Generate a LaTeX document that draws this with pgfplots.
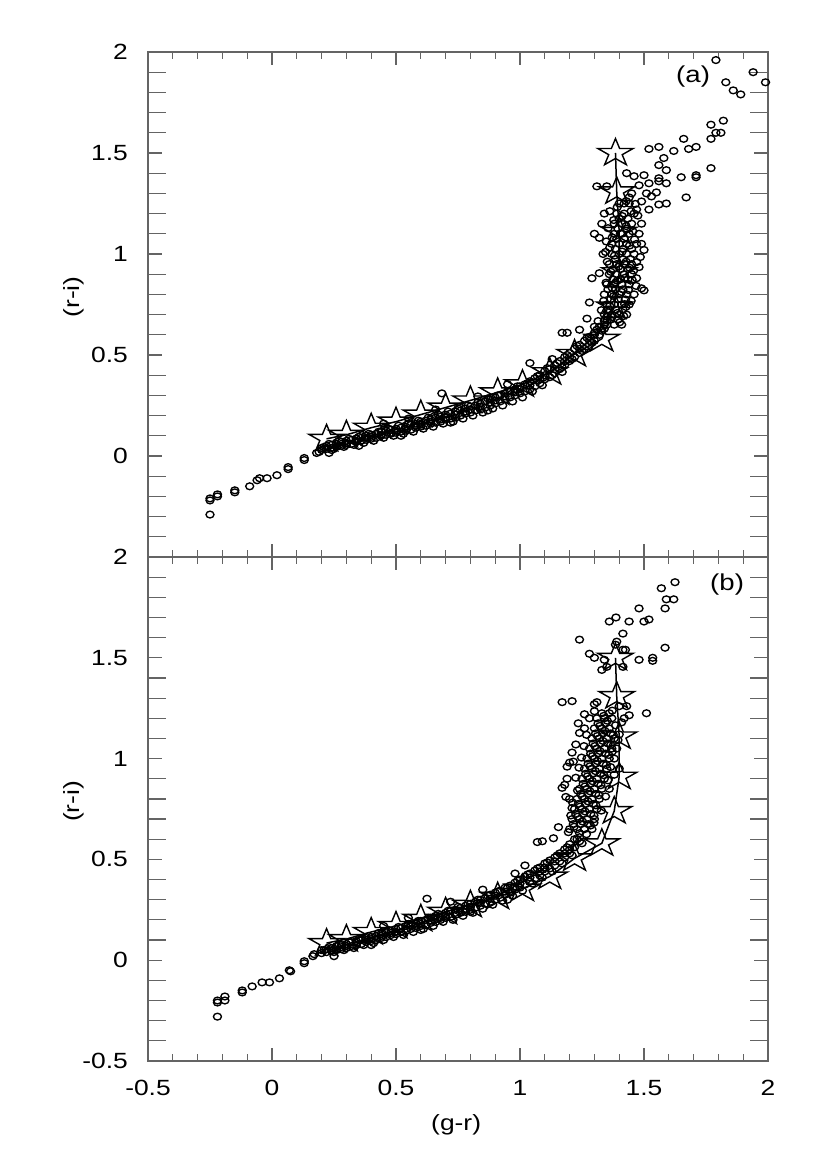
\documentclass[border=0pt]{standalone}
\usepackage{fontspec}
\setmainfont[FakeStretch=1.2]{Liberation Sans}
\usepackage{pgfplots}
\usepackage{pgfplotstable}
\pgfplotsset{compat=1.18}
\definecolor{axgray}{RGB}{100,100,100}
\pgfdeclareplotmark{ostar}{%
 \pgfpathmoveto{\pgfpoint{0pt}{0.78\pgfplotmarksize}}%
 \pgfpathlineto{\pgfpoint{-0.2245\pgfplotmarksize}{0.241\pgfplotmarksize}}%
 \pgfpathlineto{\pgfpoint{-0.9511\pgfplotmarksize}{0.241\pgfplotmarksize}}%
 \pgfpathlineto{\pgfpoint{-0.3633\pgfplotmarksize}{-0.0921\pgfplotmarksize}}%
 \pgfpathlineto{\pgfpoint{-0.5878\pgfplotmarksize}{-0.631\pgfplotmarksize}}%
 \pgfpathlineto{\pgfpoint{0pt}{-0.298\pgfplotmarksize}}%
 \pgfpathlineto{\pgfpoint{0.5878\pgfplotmarksize}{-0.631\pgfplotmarksize}}%
 \pgfpathlineto{\pgfpoint{0.3633\pgfplotmarksize}{-0.0921\pgfplotmarksize}}%
 \pgfpathlineto{\pgfpoint{0.9511\pgfplotmarksize}{0.241\pgfplotmarksize}}%
 \pgfpathlineto{\pgfpoint{0.2245\pgfplotmarksize}{0.241\pgfplotmarksize}}%
 \pgfpathclose
 \pgfusepathqstroke
}

\pgfplotstableread{
x y
0.22 0.085
0.30 0.105
0.40 0.14
0.50 0.17
0.60 0.205
0.70 0.24
0.80 0.275
0.91 0.315
1.01 0.355
1.12 0.415
1.22 0.505
1.33 0.58
1.38 0.74
1.40 0.91
1.40 1.11
1.39 1.31
1.385 1.50
}\stars

\pgfplotstableread{
x y
-0.25 -0.29
-0.25 -0.22
-0.25 -0.21
-0.22 -0.19
-0.22 -0.20
-0.15 -0.18
-0.15 -0.17
-0.09 -0.15
-0.06 -0.12
-0.05 -0.11
-0.02 -0.11
0.02 -0.095
0.065 -0.055
0.065 -0.065
0.13 -0.01
0.13 -0.02
0.18 0.015
0.19 0.02
0.20 0.03
0.20 0.04
0.22 0.035
0.22 0.05
0.24 0.04
0.24 0.055
0.24 0.03
0.26 0.045
0.26 0.06
0.28 0.05
0.28 0.07
0.28 0.06
0.30 0.055
0.30 0.075
0.30 0.065
0.32 0.06
0.32 0.08
0.34 0.07
0.34 0.085
0.34 0.075
0.36 0.075
0.36 0.09
0.38 0.08
0.38 0.10
0.38 0.09
0.40 0.085
0.40 0.105
0.40 0.095
0.42 0.09
0.42 0.11
0.44 0.10
0.44 0.12
0.44 0.105
0.46 0.105
0.46 0.125
0.48 0.11
0.48 0.13
0.48 0.115
0.50 0.115
0.50 0.135
0.50 0.125
0.52 0.12
0.52 0.14
0.54 0.125
0.54 0.145
0.54 0.135
0.56 0.13
0.56 0.155
0.58 0.14
0.58 0.16
0.58 0.15
0.60 0.145
0.60 0.17
0.60 0.155
0.62 0.15
0.62 0.175
0.64 0.16
0.64 0.18
0.64 0.17
0.66 0.165
0.66 0.19
0.68 0.17
0.68 0.195
0.68 0.18
0.70 0.18
0.70 0.205
0.70 0.19
0.72 0.185
0.72 0.21
0.74 0.19
0.74 0.22
0.74 0.205
0.76 0.20
0.76 0.225
0.78 0.21
0.78 0.235
0.78 0.22
0.80 0.215
0.80 0.245
0.80 0.23
0.82 0.225
0.82 0.25
0.84 0.23
0.84 0.26
0.84 0.245
0.86 0.24
0.86 0.27
0.88 0.25
0.88 0.28
0.88 0.265
0.90 0.26
0.90 0.29
0.90 0.275
0.92 0.27
0.92 0.30
0.94 0.28
0.94 0.31
0.94 0.295
0.96 0.29
0.96 0.32
0.98 0.30
0.98 0.33
0.98 0.315
1.00 0.31
1.00 0.345
1.00 0.33
1.02 0.32
1.02 0.355
1.04 0.33
1.04 0.37
1.04 0.35
1.06 0.345
1.06 0.385
1.08 0.36
1.08 0.40
1.08 0.38
1.10 0.38
1.10 0.42
1.10 0.40
1.12 0.39
1.12 0.43
1.14 0.41
1.14 0.45
1.14 0.43
1.16 0.43
1.16 0.47
1.18 0.45
1.18 0.49
1.18 0.47
1.20 0.47
1.20 0.51
1.20 0.49
1.22 0.49
1.22 0.53
1.24 0.51
1.24 0.55
1.24 0.53
1.26 0.53
1.26 0.57
1.28 0.55
1.28 0.59
1.28 0.57
1.30 0.57
1.30 0.61
1.30 0.60
1.32 0.60
1.32 0.64
1.34 0.63
1.34 0.67
1.34 0.65
1.35 0.69
1.35 0.72
0.685 0.31
0.45 0.16
0.55 0.185
0.66 0.23
0.83 0.295
0.95 0.355
1.04 0.46
1.17 0.416
1.13 0.48
1.17 0.61
1.19 0.61
1.24 0.625
1.27 0.68
1.28 0.76
1.29 0.88
1.32 0.905
1.335 1.0
1.345 1.01
0.23 0.015
0.35 0.05
0.52 0.10
0.72 0.165
0.87 0.225
1.35 0.65
1.38 0.65
1.41 0.65
1.34 0.70
1.37 0.70
1.40 0.70
1.43 0.70
1.35 0.75
1.38 0.75
1.41 0.75
1.44 0.75
1.34 0.80
1.37 0.80
1.40 0.80
1.43 0.80
1.46 0.80
1.35 0.85
1.38 0.85
1.41 0.85
1.44 0.85
1.36 0.90
1.39 0.90
1.42 0.90
1.45 0.90
1.36 0.95
1.39 0.95
1.42 0.95
1.45 0.95
1.37 1.00
1.40 1.00
1.43 1.00
1.46 1.00
1.37 1.05
1.40 1.05
1.43 1.05
1.47 1.05
1.38 1.10
1.41 1.10
1.44 1.10
1.38 1.15
1.41 1.15
1.45 1.15
1.39 1.20
1.42 1.20
1.46 1.20
1.40 1.25
1.44 1.25
1.365 0.675
1.395 0.675
1.355 0.725
1.385 0.725
1.415 0.725
1.365 0.775
1.395 0.775
1.425 0.775
1.355 0.825
1.385 0.825
1.415 0.825
1.375 0.875
1.405 0.875
1.435 0.875
1.375 0.925
1.405 0.925
1.435 0.925
1.385 0.975
1.415 0.975
1.445 0.975
1.385 1.025
1.415 1.025
1.45 1.025
1.39 1.075
1.42 1.075
1.395 1.125
1.43 1.125
1.40 1.175
1.435 1.175
1.50 0.82
1.49 0.83
1.47 0.88
1.48 0.935
1.47 0.96
1.50 1.02
1.48 1.10
1.49 1.15
1.30 1.10
1.32 1.08
1.33 1.15
1.34 1.20
1.79 1.96
1.94 1.90
1.99 1.85
1.83 1.85
1.86 1.81
1.89 1.79
1.82 1.66
1.77 1.64
1.81 1.60
1.79 1.60
1.77 1.57
1.66 1.57
1.71 1.53
1.68 1.52
1.62 1.51
1.56 1.53
1.52 1.52
1.58 1.475
1.56 1.44
1.59 1.415
1.77 1.425
1.71 1.39
1.71 1.38
1.65 1.38
1.67 1.28
1.50 1.39
1.43 1.40
1.46 1.385
1.56 1.375
1.56 1.36
1.59 1.35
1.52 1.35
1.48 1.34
1.31 1.335
1.35 1.335
1.51 1.30
1.55 1.305
1.59 1.25
1.56 1.245
1.52 1.22
1.49 1.26
1.44 1.28
1.42 1.25
1.47 1.22
1.45 1.30
1.53 1.285
}\dataA

\pgfplotstableread{
x y
0.21 0.045
0.23 0.06
0.25 0.035
0.27 0.075
0.29 0.045
0.31 0.085
0.33 0.055
0.35 0.095
0.37 0.065
0.39 0.11
0.41 0.075
0.43 0.12
0.45 0.09
0.47 0.135
0.49 0.10
0.51 0.15
0.53 0.11
0.55 0.16
0.57 0.12
0.59 0.175
0.61 0.135
0.63 0.19
0.65 0.145
0.67 0.205
0.69 0.16
0.71 0.22
0.73 0.17
0.75 0.235
0.77 0.185
0.79 0.25
0.81 0.20
0.83 0.265
0.85 0.215
0.87 0.285
0.89 0.235
0.91 0.30
0.93 0.25
0.95 0.32
0.97 0.27
0.99 0.345
1.01 0.29
1.03 0.36
1.05 0.32
1.07 0.395
1.09 0.35
1.11 0.435
1.13 0.40
1.15 0.46
1.17 0.44
1.19 0.50
1.21 0.48
1.23 0.545
1.25 0.52
1.27 0.585
1.29 0.56
1.31 0.625
1.33 0.62
1.352 0.672
1.371 0.688
1.402 0.662
1.418 0.693
1.362 0.742
1.392 0.708
1.427 0.738
1.448 0.768
1.378 0.792
1.409 0.812
1.437 0.822
1.468 0.842
1.347 0.858
1.392 0.868
1.423 0.882
1.452 0.872
1.366 0.912
1.398 0.938
1.428 0.962
1.458 0.918
1.352 0.962
1.381 0.992
1.412 1.012
1.442 1.042
1.462 1.072
1.372 1.082
1.405 1.102
1.428 1.138
1.455 1.112
1.378 1.168
1.412 1.188
1.448 1.212
1.392 1.232
1.428 1.262
1.465 1.248
1.362 1.212
1.355 1.128
1.348 1.062
1.362 1.032
1.422 0.752
1.385 0.858
1.442 0.932
1.372 0.832
1.338 0.768
1.328 0.722
1.315 0.668
1.485 0.985
1.49 1.05
1.475 1.19
1.30 0.64
}\dataAx

\pgfplotstableread{
x y
-0.22 -0.28
-0.22 -0.20
-0.22 -0.21
-0.19 -0.18
-0.19 -0.20
-0.12 -0.16
-0.12 -0.15
-0.08 -0.13
-0.04 -0.11
-0.01 -0.11
0.03 -0.09
0.07 -0.05
0.075 -0.055
0.13 -0.005
0.13 -0.015
0.165 0.02
0.17 0.03
0.20 0.035
0.20 0.05
0.22 0.04
0.22 0.055
0.24 0.045
0.24 0.06
0.24 0.05
0.26 0.05
0.26 0.07
0.28 0.055
0.28 0.075
0.28 0.065
0.30 0.06
0.30 0.08
0.30 0.07
0.32 0.07
0.32 0.09
0.34 0.075
0.34 0.095
0.34 0.085
0.36 0.08
0.36 0.10
0.38 0.09
0.38 0.11
0.38 0.10
0.40 0.095
0.40 0.115
0.40 0.105
0.42 0.10
0.42 0.12
0.44 0.11
0.44 0.13
0.44 0.12
0.46 0.115
0.46 0.14
0.48 0.125
0.48 0.145
0.48 0.135
0.50 0.13
0.50 0.155
0.50 0.14
0.52 0.14
0.52 0.16
0.54 0.145
0.54 0.17
0.54 0.155
0.56 0.155
0.56 0.175
0.58 0.16
0.58 0.185
0.58 0.17
0.60 0.17
0.60 0.195
0.60 0.18
0.62 0.175
0.62 0.20
0.64 0.185
0.64 0.21
0.64 0.195
0.66 0.19
0.66 0.22
0.68 0.20
0.68 0.225
0.68 0.21
0.70 0.21
0.70 0.235
0.70 0.22
0.72 0.215
0.72 0.245
0.74 0.225
0.74 0.25
0.74 0.235
0.76 0.235
0.76 0.26
0.78 0.24
0.78 0.27
0.78 0.255
0.80 0.25
0.80 0.28
0.80 0.265
0.82 0.26
0.82 0.29
0.84 0.27
0.84 0.30
0.84 0.285
0.86 0.28
0.86 0.31
0.88 0.29
0.88 0.325
0.88 0.305
0.90 0.30
0.90 0.335
0.90 0.32
0.92 0.31
0.92 0.345
0.94 0.325
0.94 0.36
0.94 0.34
0.96 0.335
0.96 0.37
0.98 0.35
0.98 0.385
0.98 0.365
1.00 0.36
1.00 0.40
1.00 0.38
1.02 0.375
1.02 0.415
1.04 0.39
1.04 0.43
1.04 0.41
1.06 0.405
1.06 0.445
1.08 0.42
1.08 0.46
1.08 0.44
1.10 0.44
1.10 0.48
1.10 0.46
1.12 0.455
1.12 0.495
1.14 0.47
1.14 0.51
1.14 0.49
1.16 0.49
1.16 0.53
1.18 0.51
1.18 0.55
1.18 0.53
1.20 0.53
1.20 0.575
1.20 0.55
1.22 0.56
1.22 0.60
1.24 0.59
1.24 0.63
1.24 0.61
1.20 0.65
1.23 0.65
1.26 0.65
1.29 0.65
1.215 0.675
1.245 0.675
1.275 0.675
1.21 0.70
1.24 0.70
1.27 0.70
1.30 0.70
1.225 0.725
1.255 0.725
1.285 0.725
1.22 0.75
1.25 0.75
1.28 0.75
1.31 0.75
1.235 0.775
1.265 0.775
1.295 0.775
1.23 0.80
1.26 0.80
1.29 0.80
1.32 0.80
1.245 0.825
1.275 0.825
1.305 0.825
1.24 0.85
1.27 0.85
1.30 0.85
1.33 0.85
1.255 0.875
1.285 0.875
1.315 0.875
1.25 0.90
1.28 0.90
1.31 0.90
1.34 0.90
1.265 0.925
1.295 0.925
1.325 0.925
1.26 0.95
1.29 0.95
1.32 0.95
1.35 0.95
1.275 0.975
1.305 0.975
1.335 0.975
1.27 1.00
1.30 1.00
1.33 1.00
1.36 1.00
1.285 1.025
1.315 1.025
1.345 1.025
1.28 1.05
1.31 1.05
1.34 1.05
1.37 1.05
1.295 1.075
1.325 1.075
1.355 1.075
1.29 1.10
1.32 1.10
1.35 1.10
1.38 1.10
1.305 1.125
1.335 1.125
1.365 1.125
1.30 1.15
1.33 1.15
1.36 1.15
1.315 1.175
1.345 1.175
1.31 1.20
1.34 1.20
1.37 1.20
1.33 1.225
1.36 1.225
1.24 1.127
1.21 1.03
1.20 0.98
1.19 0.96
1.17 0.855
1.18 0.87
1.21 0.755
1.155 0.66
1.07 0.586
1.09 0.59
1.135 0.605
1.20 0.80
1.19 0.90
1.38 1.00
1.39 1.05
1.40 1.12
1.41 1.18
1.38 0.92
1.36 0.85
1.40 0.95
0.625 0.305
0.55 0.21
0.72 0.29
0.85 0.35
0.98 0.43
1.02 0.47
0.45 0.17
0.25 0.02
0.40 0.075
0.60 0.15
0.80 0.24
0.95 0.30
1.625 1.875
1.57 1.845
1.59 1.79
1.62 1.79
1.585 1.745
1.48 1.745
1.387 1.70
1.36 1.68
1.44 1.68
1.50 1.68
1.52 1.69
1.415 1.62
1.24 1.59
1.39 1.58
1.385 1.565
1.415 1.54
1.425 1.54
1.585 1.55
1.28 1.52
1.30 1.50
1.34 1.49
1.48 1.49
1.535 1.50
1.535 1.485
1.33 1.44
1.35 1.455
1.415 1.455
1.17 1.28
1.21 1.285
1.30 1.27
1.31 1.28
1.51 1.225
1.43 1.26
1.40 1.26
1.26 1.22
1.44 1.215
1.42 1.20
}\dataB

\pgfplotstableread{
x y
0.21 0.05
0.23 0.065
0.25 0.04
0.27 0.08
0.29 0.05
0.31 0.09
0.33 0.06
0.35 0.10
0.37 0.075
0.39 0.12
0.41 0.085
0.43 0.135
0.45 0.10
0.47 0.15
0.49 0.115
0.51 0.165
0.53 0.125
0.55 0.18
0.57 0.14
0.59 0.195
0.61 0.155
0.63 0.21
0.65 0.17
0.67 0.23
0.69 0.19
0.71 0.245
0.73 0.20
0.75 0.265
0.77 0.22
0.79 0.28
0.81 0.235
0.83 0.30
0.85 0.255
0.87 0.32
0.89 0.275
0.91 0.34
0.93 0.295
0.95 0.36
0.97 0.32
0.99 0.395
1.01 0.345
1.03 0.425
1.05 0.38
1.07 0.455
1.09 0.41
1.11 0.485
1.13 0.44
1.15 0.52
1.17 0.48
1.19 0.56
1.21 0.52
1.23 0.60
1.25 0.58
1.218 0.662
1.252 0.688
1.284 0.668
1.232 0.712
1.262 0.738
1.298 0.718
1.242 0.762
1.274 0.788
1.306 0.768
1.251 0.812
1.282 0.838
1.318 0.818
1.262 0.862
1.292 0.888
1.326 0.868
1.272 0.912
1.304 0.938
1.338 0.918
1.282 0.962
1.312 0.988
1.348 0.968
1.292 1.012
1.322 1.038
1.358 1.018
1.302 1.062
1.334 1.088
1.366 1.068
1.312 1.112
1.342 1.138
1.376 1.118
1.322 1.162
1.352 1.188
1.385 1.165
1.338 1.212
1.372 1.238
1.232 0.842
1.225 0.905
1.238 0.955
1.248 1.005
1.258 1.062
1.268 1.118
1.205 0.718
1.212 0.782
1.195 0.635
1.268 0.625
1.298 0.682
1.328 0.742
1.345 0.812
1.355 0.892
1.365 0.958
1.372 1.035
1.395 1.092
1.225 1.07
1.235 1.175
1.28 1.20
1.30 1.235
1.26 1.15
1.215 0.985
1.185 0.81
}\dataBx

\pgfplotsset{
  base/.style={
    scale only axis, width=620pt,
    xmin=-0.5, xmax=2, ymin=-0.5, ymax=2,
    axis line style={axgray, line width=1.6pt},
    tick style={axgray, line width=1.2pt},
    tick align=inside, clip=false,
  },
  xt/.style={
    xtick={-0.5,0,0.5,1,1.5,2}, minor x tick num=4, ytick=\empty,
    major tick length=13pt, minor tick length=7pt,
  },
  yt/.style={
    ytick={-0.5,0,0.5,1,1.5,2}, minor y tick num=4, xtick=\empty,
    major tick length=14pt, minor tick length=18pt,
    yticklabel style={anchor=east, inner sep=0pt, xshift=-20pt},
    every axis y label/.style={at={(axis description cs:-0.12,0.515)}, rotate=90, anchor=center},
  },
  pts/.style={only marks, mark=o, mark size=4pt, mark options={black, line width=1.35pt, yscale=0.85}},
  starline/.style={black, line width=1.5pt, line join=miter, mark=ostar, mark size=18.5pt, mark options={solid, line width=1.4pt, line join=miter}},
}

\begin{document}
\begin{tikzpicture}[font=\fontsize{22}{26}\selectfont]
\useasboundingbox (-148pt,-109pt) rectangle (679pt,1061pt);

% bottom panel (b)
\begin{axis}[base, xt, at={(0pt,0pt)}, height=504pt,
  xticklabels={-0.5,0,0.5,1,1.5,2},
  xticklabel style={anchor=north, inner sep=0pt, yshift=-19pt},
  xlabel={(g-r)},
  every axis x label/.style={at={(axis description cs:0.497,0)}, anchor=center, yshift=-64pt}]
\end{axis}
\begin{axis}[base, yt, at={(0pt,0pt)}, height=504pt,
  yticklabels={-0.5,0,0.5,1,1.5,2}, ylabel={(r-i)}]
  \addplot[pts] table {\dataB};
  \addplot[pts] table {\dataBx};
  \addplot[starline] table {\stars};
  \node[font=\fontsize{23}{27}\selectfont] at (axis cs:1.835,1.861) {(b)};
\end{axis}

% top panel (a)
\begin{axis}[base, xt, at={(0pt,504pt)}, height=505pt, xticklabels={}]
\end{axis}
\begin{axis}[base, yt, at={(0pt,504pt)}, height=505pt,
  yticklabels={,0,0.5,1,1.5,2}, ylabel={(r-i)}]
  \addplot[pts] table {\dataA};
  \addplot[pts] table {\dataAx};
  \addplot[starline] table {\stars};
  \node[font=\fontsize{23}{27}\selectfont] at (axis cs:1.698,1.876) {(a)};
\end{axis}
\end{tikzpicture}
\end{document}
